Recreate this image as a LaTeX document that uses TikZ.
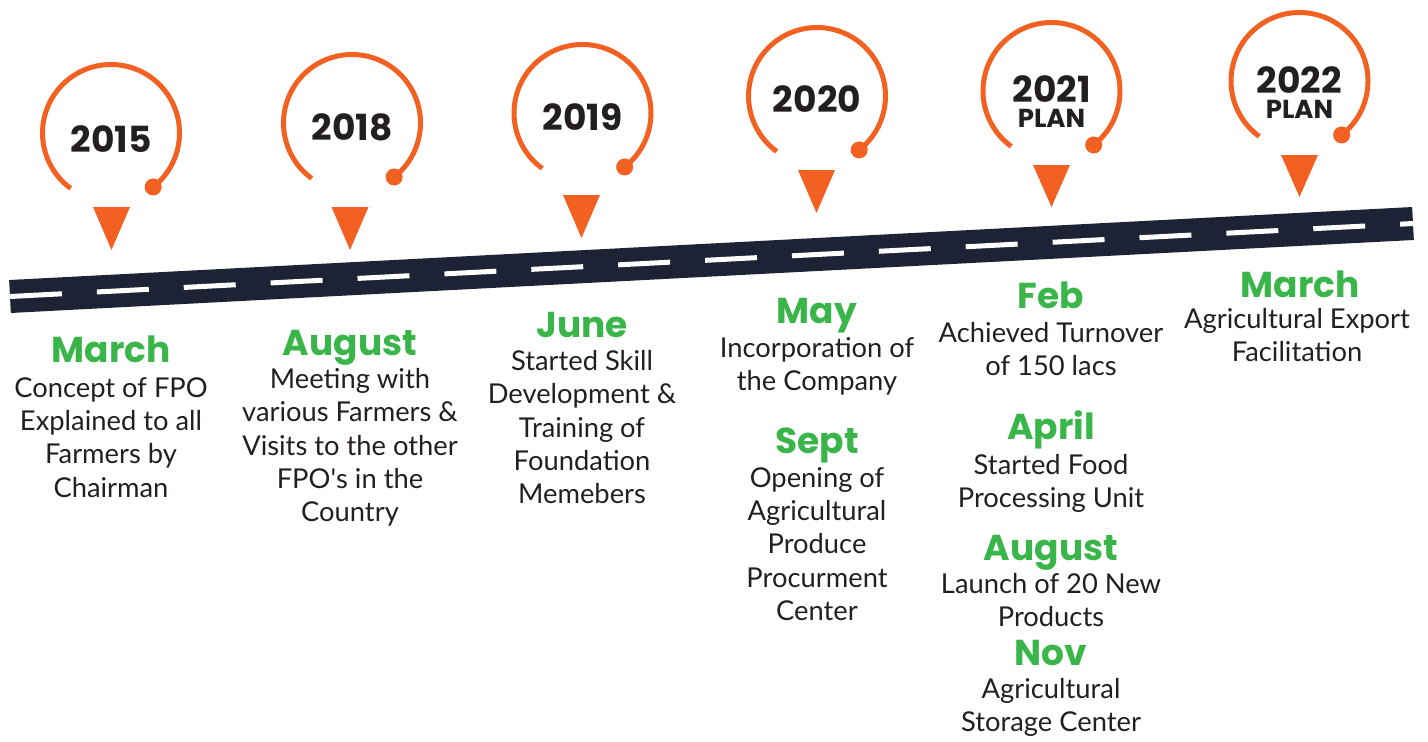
\documentclass[tikz,border=0pt]{standalone}
\usepackage{fontspec}
\setmainfont{Lato}
\newfontfamily\headfont{Poppins}
\usetikzlibrary{positioning}
\definecolor{roadnavy}{HTML}{1D2235}
\definecolor{pinorange}{HTML}{F26122}
\definecolor{monthgreen}{HTML}{3AB54A}
\definecolor{inkdark}{HTML}{231F20}

\begin{document}
\begin{tikzpicture}[x=0.75pt,y=0.75pt,
    road/.style={draw=roadnavy,line width=24.75pt},
    lane/.style={draw=white,line width=3.75pt,dash pattern=on 39pt off 26.25pt},
    ring/.style={draw=pinorange,line width=3.75pt},
    knob/.style={fill=pinorange},
    pin/.style={fill=pinorange},
    year/.style={font=\headfont\bfseries\fontsize{27}{30}\selectfont,text=inkdark,inner sep=0pt,anchor=base},
    planyear/.style={font=\headfont\bfseries\fontsize{27}{18.75}\selectfont,text=inkdark,inner sep=0pt,align=center,anchor=north},
    month/.style={font=\headfont\bfseries\fontsize{27}{30}\selectfont,text=monthgreen,inner sep=0pt,anchor=base},
    event/.style={font=\fontsize{20.5}{25}\selectfont,text=inkdark,align=center,inner sep=0pt,anchor=north}]
        \useasboundingbox(0,0)rectangle(1428,-742);
        % road
        \coordinate(rl)at(10,-296.5);
        \coordinate(rr)at(1413,-223.5);
        \draw[road](rl)--(rr);
        \draw[lane](rl)--(rr);
        % 2015
        \coordinate(c15)at(111,-133);
        \coordinate(t15)at(111.5,-207);
        \node(y15)at(111,-152)[year]{2015};
        \draw[ring](c15)++(-52:68.5)arc[start angle=-52,end angle=234,radius=68.5];
        \fill[knob](c15)++(-52:68.5)circle[radius=8.5];
        \fill[pin](t15)++(-18.5,0)--++(37,0)--++(-18.5,-43)--cycle;
        % 2018
        \coordinate(c18)at(352,-123);
        \coordinate(t18)at(350,-207);
        \node(y18)at(352,-141)[year]{2018};
        \draw[ring](c18)++(-52:68.5)arc[start angle=-52,end angle=234,radius=68.5];
        \fill[knob](c18)++(-52:68.5)circle[radius=8.5];
        \fill[pin](t18)++(-18.5,0)--++(37,0)--++(-18.5,-43)--cycle;
        % 2019
        \coordinate(c19)at(582.5,-113);
        \coordinate(t19)at(581.5,-195);
        \node(y19)at(582.5,-130)[year]{2019};
        \draw[ring](c19)++(-52:68.5)arc[start angle=-52,end angle=234,radius=68.5];
        \fill[knob](c19)++(-52:68.5)circle[radius=8.5];
        \fill[pin](t19)++(-18.5,0)--++(37,0)--++(-18.5,-43)--cycle;
        % 2020
        \coordinate(c20)at(817,-96);
        \coordinate(t20)at(816.5,-170);
        \node(y20)at(817,-113)[year]{2020};
        \draw[ring](c20)++(-52:68.5)arc[start angle=-52,end angle=234,radius=68.5];
        \fill[knob](c20)++(-52:68.5)circle[radius=8.5];
        \fill[pin](t20)++(-18.5,0)--++(37,0)--++(-18.5,-43)--cycle;
        % 2021
        \coordinate(c21)at(1051.5,-91);
        \coordinate(t21)at(1051.5,-165);
        \node(y21)at(1051.5,-75)[planyear]{2021\\{\fontsize{19.5}{20}\selectfont PLAN}};
        \draw[ring](c21)++(-52:68.5)arc[start angle=-52,end angle=234,radius=68.5];
        \fill[knob](c21)++(-52:68.5)circle[radius=8.5];
        \fill[pin](t21)++(-18.5,0)--++(37,0)--++(-18.5,-42)--cycle;
        % 2022
        \coordinate(c22)at(1299.5,-81);
        \coordinate(t22)at(1299.5,-155);
        \node(y22)at(1299.5,-66)[planyear]{2022\\{\fontsize{19.5}{20}\selectfont PLAN}};
        \draw[ring](c22)++(-52:68.5)arc[start angle=-52,end angle=234,radius=68.5];
        \fill[knob](c22)++(-52:68.5)circle[radius=8.5];
        \fill[pin](t22)++(-18.5,0)--++(37,0)--++(-18.5,-42)--cycle;
        % events
        \node(m15)at(111,-362)[month]{March};
        \node(e15)at(111,-377)[event]{Concept of FPO\\Explained to all\\Farmers by\\Chairman};
        \node(m18)at(350,-355)[month]{August};
        \node(e18)at(350,-368)[event]{Meeting with\\various Farmers \&\\Visits to the other\\FPO\textquotesingle s in the\\Country};
        \node(m19)at(582,-337)[month]{June};
        \node(e19)at(582,-350)[event]{Started Skill\\Development \&\\Training of\\Foundation\\Memebers};
        \node(m20a)at(817,-323)[month]{May};
        \node(e20a)at(817,-337)[event]{Incorporation of\\the Company};
        \node(m20b)at(817,-453)[month]{Sept};
        \node(e20b)at(817,-467)[event]{Opening of\\Agricultural\\Produce\\Procurment\\Center};
        \node(m21a)at(1051,-308)[month]{Feb};
        \node(e21a)at(1051,-322)[event]{Achieved Turnover\\of 150 lacs};
        \node(m21b)at(1051,-439)[month]{April};
        \node(e21b)at(1051,-454)[event]{Started Food\\Processing Unit};
        \node(m21c)at(1051,-560)[month]{August};
        \node(e21c)at(1051,-573)[event]{Launch of 20 New\\Products};
        \node(m21d)at(1051,-665)[month]{Nov};
        \node(e21d)at(1051,-678)[event]{Agricultural\\Storage Center};
        \node(m22)at(1300,-297)[month]{March};
        \node(e22)at(1297,-308)[event]{Agricultural Export\\Facilitation};
    \end{tikzpicture}
\end{document}
